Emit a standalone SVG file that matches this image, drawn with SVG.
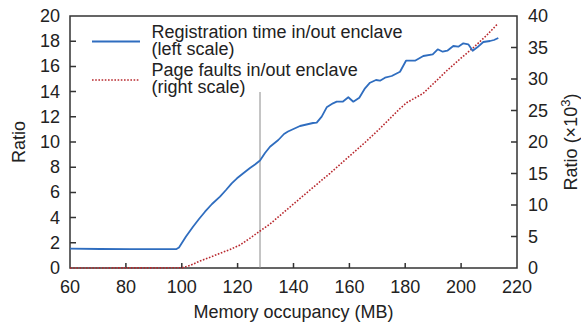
<svg xmlns="http://www.w3.org/2000/svg" width="581" height="326" viewBox="0 0 581 326">
<style>
text{font-family:"Liberation Sans",Arial,sans-serif;font-size:18px;fill:#222}
.l{text-anchor:end}
.m{text-anchor:middle}
.ax{fill:none;stroke:#333;stroke-width:1.5}
.tk{stroke:#333;stroke-width:1.5}
.blue{fill:none;stroke:#2f6dbf;stroke-width:1.8;stroke-linejoin:round}
.red{fill:none;stroke:#b8282e;stroke-width:1.6;stroke-dasharray:1.6 1.6}
</style>
<rect width="581" height="326" fill="#fff"/>
<g id="axes">
<rect class="ax" x="70" y="16" width="447" height="252"/>
<path class="tk" d="M70,242.8h6M70,217.6h6M70,192.4h6M70,167.2h6M70,142h6M70,116.8h6M70,91.6h6M70,66.4h6M70,41.2h6M517,236.5h-6M517,205h-6M517,173.5h-6M517,142h-6M517,110.5h-6M517,79h-6M517,47.5h-6M125.9,268v-5M181.8,268v-5M237.6,268v-5M293.5,268v-5M349.4,268v-5M405.2,268v-5M461.1,268v-5"/>
</g>
<g id="left-labels">
<text class="l" x="60" y="274">0</text>
<text class="l" x="60" y="248.8">2</text>
<text class="l" x="60" y="223.6">4</text>
<text class="l" x="60" y="198.4">6</text>
<text class="l" x="60" y="173.2">8</text>
<text class="l" x="60" y="148">10</text>
<text class="l" x="60" y="122.8">12</text>
<text class="l" x="60" y="97.6">14</text>
<text class="l" x="60" y="72.4">16</text>
<text class="l" x="60" y="47.2">18</text>
<text class="l" x="60" y="22">20</text>
</g>
<g id="right-labels">
<text x="528" y="274">0</text>
<text x="528" y="242.5">5</text>
<text x="528" y="211">10</text>
<text x="528" y="179.5">15</text>
<text x="528" y="148">20</text>
<text x="528" y="116.5">25</text>
<text x="528" y="85">30</text>
<text x="528" y="53.5">35</text>
<text x="528" y="22">40</text>
</g>
<g id="bottom-labels">
<text class="m" x="70" y="292.5">60</text>
<text class="m" x="125.9" y="292.5">80</text>
<text class="m" x="181.8" y="292.5">100</text>
<text class="m" x="237.6" y="292.5">120</text>
<text class="m" x="293.5" y="292.5">140</text>
<text class="m" x="349.4" y="292.5">160</text>
<text class="m" x="405.2" y="292.5">180</text>
<text class="m" x="461.1" y="292.5">200</text>
<text class="m" x="517" y="292.5">220</text>
</g>
<g id="titles">
<text class="m" x="293.5" y="318">Memory occupancy (MB)</text>
<text class="m" transform="translate(25,142) rotate(-90)">Ratio</text>
<text class="m" transform="translate(577,142) rotate(-90)">Ratio (×10<tspan dy="-7" font-size="13">3</tspan><tspan dy="7">)</tspan></text>
</g>
<g id="marker-line">
<line x1="260" y1="92" x2="260" y2="268" stroke="#8a8a8a" stroke-width="1"/>
</g>
<g id="connectors">
<path id="page-faults" class="red" d="M70,268L182,267.8L190,265.5L200,261L210,257.3L220,253.3L230,249.5L240,245L250,238.2L260,231L270,224L290,207L310,190L330,173.3L347,158.3L365,142.5L380,128.5L400,108.5L407,102.5L423,93.5L433,84L447,70.5L460,59L473,48L486,36L498,23.5"/>
<path id="registration-time" class="blue" d="M70,248.6L100,249L130,249.2L160,249.2L176.5,249L179,247.5L186,236.5L193,226.7L199,219L205,211.7L212,204L220,196.7L226,190L231.7,183.3L237,178.3L243.3,173.3L250,168L255,164.5L260,160.5L265,153L270,146.7L278.3,140L284,134L288,131.5L300,126L313,123L316.7,122.7L321.7,116.7L326.7,107.3L333,103.3L336.7,101.7L342.7,101.7L348.3,97.3L353.3,101.7L359.3,97.7L365,88.3L370,82.7L376,80L380,80.7L385,77.7L391.7,76L400,71.7L406,60.7L415,60.7L423.3,56L432.7,54.3L437.7,49.3L442.7,51.7L447.3,50.7L453.3,46L458.3,46.7L463.3,43.3L468.3,44.3L472.7,50.7L477.3,47.3L483.3,42L490,41L494,40L498.3,38"/>
</g>
<g id="legend">
<line class="blue" x1="92" y1="41.5" x2="140" y2="41.5"/>
<line class="red" x1="92" y1="80" x2="140" y2="80"/>
<text x="151.5" y="38">Registration time in/out enclave</text>
<text x="151.5" y="55">(left scale)</text>
<text x="151.5" y="76">Page faults in/out enclave</text>
<text x="151.5" y="93">(right scale)</text>
</g>
</svg>
